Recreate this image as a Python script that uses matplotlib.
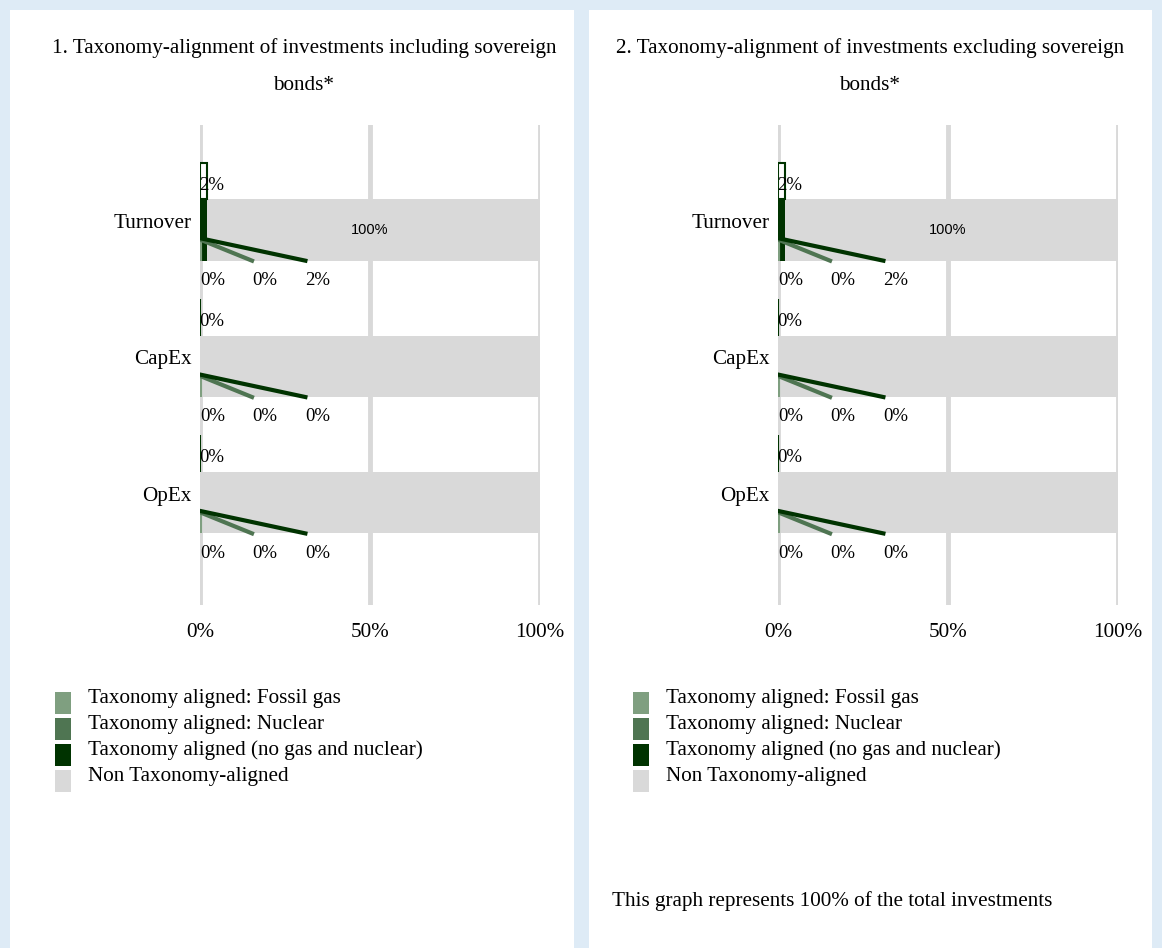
import matplotlib.pyplot as plt
from matplotlib.patches import Rectangle
from matplotlib.transforms import ScaledTranslation

# datos
categorias = ["Turnover", "CapEx", "OpEx"]
fosil = [0, 0, 0]
nuclear = [0, 0, 0]
alineado = [2, 0, 0]
no_alineado = [100, 100, 100]
titulos = ["1. Taxonomy-alignment of investments including sovereign\nbonds*",
           "2. Taxonomy-alignment of investments excluding sovereign\nbonds*"]
leyenda = ["Taxonomy aligned: Fossil gas", "Taxonomy aligned: Nuclear",
           "Taxonomy aligned (no gas and nuclear)", "Non Taxonomy-aligned"]
nota = "This graph represents 100% of the total investments"

c_fosil = "#7f9f80"
c_nuclear = "#4f7552"
c_alineado = "#003300"
c_gris = "#d9d9d9"
colores = [c_fosil, c_nuclear, c_alineado, c_gris]

plt.rcParams['font.family'] = ["Liberation Serif", "DejaVu Serif"]
fs = 15.2

W, H = 1162, 948
fig = plt.figure(figsize=(W / 100, H / 100), dpi=100, facecolor="#deebf6")

# paneles blancos
for x0, x1 in [(10, 574), (589, 1152)]:
    fig.patches.append(Rectangle((x0 / W, 0), (x1 - x0) / W, (H - 10) / H,
                                 transform=fig.transFigure, facecolor="white",
                                 edgecolor="none", zorder=-5))


def panel(x_eje, titulo, x_titulo):
    ax = fig.add_axes([x_eje / W, 1 - 605 / H, 340 / W, 480 / H])
    ax.set_zorder(2)
    ax.set_facecolor("none")
    ys = list(range(len(categorias)))
    ax.set_xlim(0, 100)
    ax.set_ylim(2.75, -0.77)
    ax.set_axisbelow(True)
    ax.grid(axis="x", color=c_gris, linewidth=3.5)
    for s in ax.spines.values():
        s.set_visible(False)
    ax.set_xticks([0, 50, 100])
    ax.set_xticklabels(["0%", "50%", "100%"], fontsize=fs)
    ax.set_yticks(ys)
    ax.set_yticklabels(categorias, fontsize=fs)
    ax.tick_params(length=0, axis="x", pad=13)
    ax.tick_params(length=0, axis="y", pad=6)
    # las categorias van un poco por encima del centro de la barra
    for lbl in ax.get_yticklabels():
        lbl.set_transform(lbl.get_transform() + ScaledTranslation(0, 0.09, fig.dpi_scale_trans))

    h = 0.45
    # barras
    ax.barh(ys, alineado, height=h, color=c_alineado, zorder=2)
    ax.barh(ys, [n - a for n, a in zip(no_alineado, alineado)], left=alineado,
            height=h, color=c_gris, zorder=2)
    for i, y in enumerate(ys):
        # caja de etiqueta arriba
        ax.add_patch(Rectangle((0, y - 0.495), alineado[i], 0.27, facecolor="white",
                               edgecolor=c_alineado, linewidth=1.5, zorder=3))
        ax.text(-0.3, y - 0.33, f"{alineado[i]}%", fontsize=13.5, va="center", ha="left", zorder=4)
        # lineas guia abajo
        ax.plot([0, 0], [y + 0.06, y + 0.225], color=c_fosil, linewidth=3, zorder=3,
                solid_capstyle="butt")
        ax.plot([0, 15.3], [y + 0.07, y + 0.225], color=c_nuclear, linewidth=3, zorder=3)
        ax.plot([0, 31], [y + 0.06, y + 0.225], color=c_alineado, linewidth=3, zorder=4)
        ax.text(0, y + 0.37, f"{fosil[i]}%", fontsize=13.5, va="center", ha="left")
        ax.text(15.3, y + 0.37, f"{nuclear[i]}%", fontsize=13.5, va="center", ha="left")
        ax.text(31, y + 0.37, f"{alineado[i]}%", fontsize=13.5, va="center", ha="left")
    ax.text(50, ys[0], f"{no_alineado[0]}%", fontsize=10.5, va="center", ha="center",
            family=["Liberation Sans", "DejaVu Sans"], zorder=5)

    for j, linea in enumerate(titulo.split("\n")):
        fig.text(x_titulo / W, 1 - (48 + 37 * j) / H, linea, fontsize=fs,
                 ha="center", va="center")

    # leyenda hecha a mano
    for k, (txt, col) in enumerate(zip(leyenda, colores)):
        yk = 698 + k * 26
        xl = x_eje - 145
        fig.patches.append(Rectangle((xl / W, 1 - (yk + 16) / H), 16 / W, 22 / H,
                                     transform=fig.transFigure, facecolor=col,
                                     edgecolor="none"))
        fig.text((xl + 33) / W, 1 - yk / H, txt, fontsize=fs, va="center", ha="left")
    return ax


panel(200, titulos[0], 304)
panel(778, titulos[1], 870)
fig.text(612 / W, 1 - 901 / H, nota, fontsize=fs, va="center", ha="left")

plt.savefig("out.png", dpi=100, facecolor=fig.get_facecolor())
